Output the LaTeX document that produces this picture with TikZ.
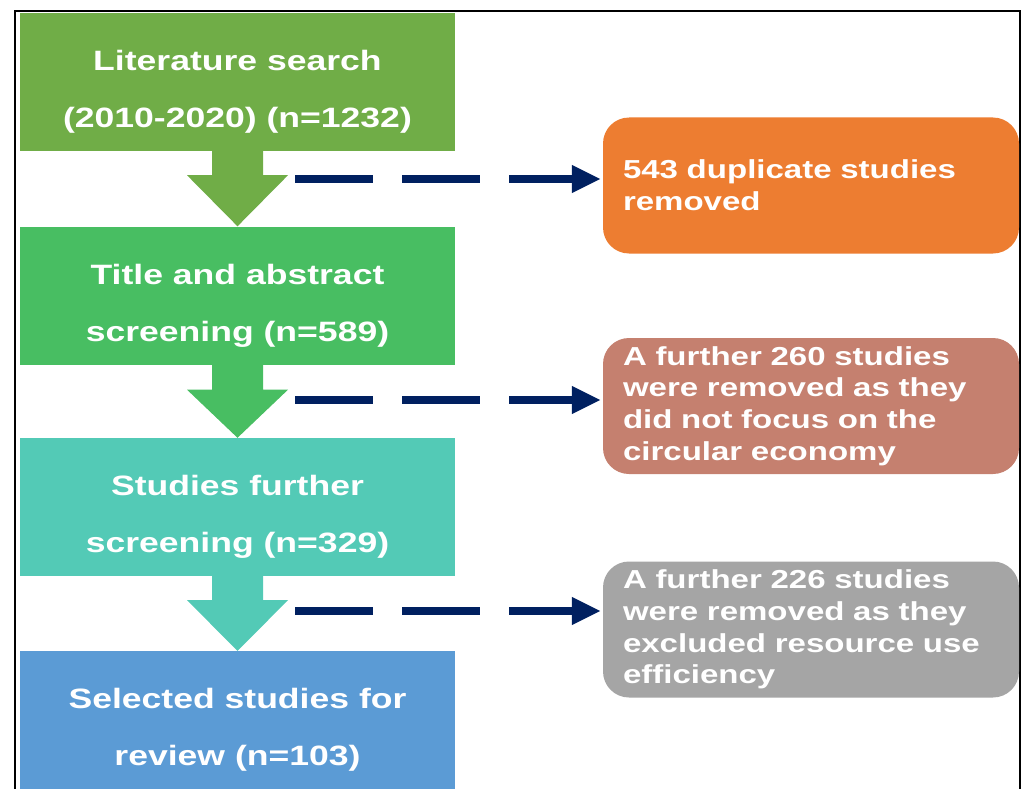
\documentclass[tikz,border=0pt]{standalone}
\usepackage{fontspec}
\newfontfamily\flowfont[FakeStretch=1.27]{Liberation Sans}
\usetikzlibrary{arrows.meta,calc}

\definecolor{stageA}{RGB}{112,173,71}
\definecolor{stageB}{RGB}{72,190,98}
\definecolor{stageC}{RGB}{83,202,182}
\definecolor{stageD}{RGB}{91,155,213}
\definecolor{noteA}{RGB}{237,125,49}
\definecolor{noteB}{RGB}{197,128,111}
\definecolor{noteC}{RGB}{165,165,165}
\definecolor{navy}{RGB}{0,32,96}

% broad down arrow between two stacked stage boxes
\newcommand\stagearrow[4]{%
  \fill[#3] ($(#1.south)+(-25.5,0)$) -- ++(0,#4) -- ++(-25,0) -- (#2.north)
    -- ($(#1.south)+(50.5,#4)$) -- ++(-25,0) -- ++(0,-#4) -- cycle;}

\begin{document}
\begin{tikzpicture}[x=1pt,y=-1pt,
  stage/.style={rectangle, minimum width=435pt, minimum height=138pt, inner sep=0pt},
  stagetext/.style={text=white, align=center,
    font=\flowfont\bfseries\fontsize{28}{57}\selectfont},
  note/.style={rectangle, rounded corners=26pt, text=white, align=left,
    text width=376pt, inner xsep=20pt, inner ysep=0pt, minimum height=136pt,
    font=\flowfont\bfseries\fontsize{26}{31.8}\selectfont},
  link/.style={draw=navy, line width=8pt, dash pattern=on 78pt off 29pt,
    shorten >=2pt, -{Triangle[length=29pt,width=26pt]}}]
\useasboundingbox (0,0) rectangle (1022,789);

% outer frame
\draw[line width=2pt] (15,789) -- (15,11) -- (1020,11) -- (1020,789);

% main stages
\node[stage, fill=stageA] (b1) at (237.5,82) {};
\node[stage, fill=stageB] (b2) at (237.5,295.5) {};
\node[stage, fill=stageC] (b3) at (237.5,507) {};
\node[stage, fill=stageD] (b4) at (237.5,720) {};

\node[stagetext] (t1) at ($(b1.center)+(0,10)$) {Literature search\\(2010-2020) (n=1232)};
\node[stagetext] (t2) at ($(b2.center)+(0,10)$) {Title and abstract\\screening (n=589)};
\node[stagetext] (t3) at ($(b3.center)+(0,10)$) {Studies further\\screening (n=329)};
\node[stagetext] (t4) at ($(b4.center)+(0,10)$) {Selected studies for\\review (n=103)};

\stagearrow{b1}{b2}{stageA}{24}
\stagearrow{b2}{b3}{stageB}{25}
\stagearrow{b3}{b4}{stageC}{24}

% exclusion notes
\node[note, fill=noteA] (r1) at (811,185.5) {543 duplicate studies\\removed};
\node[note, fill=noteB] (r2) at (811,406) {A further 260 studies\\were removed as they\\did not focus on the\\circular economy};
\node[note, fill=noteC] (r3) at (811,629.5) {A further 226 studies\\were removed as they\\excluded resource use\\efficiency};

% dashed links to the notes
\coordinate (s1) at (295,179);
\coordinate (s2) at (295,400);
\coordinate (s3) at (295,611);
\draw[link] (s1) -- (s1 -| r1.west);
\draw[link] (s2) -- (s2 -| r2.west);
\draw[link] (s3) -- (s3 -| r3.west);
\end{tikzpicture}
\end{document}
